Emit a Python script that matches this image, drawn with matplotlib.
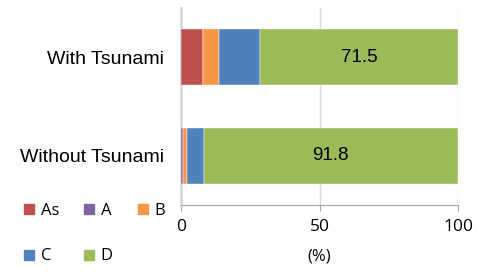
import matplotlib.pyplot as plt
from matplotlib.lines import Line2D

# data (percent share of each class)
categories = ['With Tsunami', 'Without Tsunami']
series_names = ['As', 'A', 'B', 'C', 'D']
values = {
    'As': [7.8, 0.1],
    'A': [0.0, 0.8],
    'B': [5.9, 1.4],
    'C': [14.8, 5.9],
    'D': [71.5, 91.8],
}
colors = {'As': '#C0504D', 'A': '#8064A2', 'B': '#F79646', 'C': '#4F81BD', 'D': '#9BBB59'}
ticks = [0, 50, 100]

fig = plt.figure(figsize=(4.78, 2.73), dpi=100)
ax = fig.add_axes([181/478, 1 - 205/273, 277/478, 197/273])

ypos = list(range(len(categories)))
left = [0.0] * len(categories)
for name in series_names:
    ax.barh(ypos, values[name], left=left, height=0.57, color=colors[name],
            edgecolor='white', linewidth=0.3, zorder=3)
    left = [l + v for l, v in zip(left, values[name])]

# label the D segment
for i, v in enumerate(values['D']):
    start = 100 - v
    ax.text(start + v / 2, i, f'{v:.1f}', ha='center', va='center',
            fontsize=13.5, family='Liberation Sans', color='black', zorder=4)

ax.set_xlim(0, 100)
ax.set_ylim(1.5, -0.5)
ax.set_yticks(ypos)
ax.set_yticklabels(categories, fontsize=14, family='Liberation Sans')
ax.set_xticks(ticks)
ax.set_xticklabels([str(t) for t in ticks], fontsize=12.5, family='Open Sans')
ax.tick_params(axis='y', length=0, pad=12)
ax.tick_params(axis='x', length=4, color='#A6A6A6', pad=6)
ax.set_xlabel('(%)', fontsize=12, family='Open Sans', labelpad=10)

ax.grid(axis='x', color='#D9D9D9', linewidth=1, zorder=0)
for s in ['top', 'right']:
    ax.spines[s].set_visible(False)
ax.spines['bottom'].set_color('#A6A6A6')
ax.spines['left'].set_color('#D9D9D9')
ax.spines['left'].set_linewidth(2)

# legend filled row by row: As A B / C D
order = ['As', 'C', 'A', 'D', 'B']
handles = [Line2D([], [], marker='s', linestyle='none', markersize=6.5,
                  markerfacecolor=colors[n], markeredgecolor=colors[n]) for n in order]
fig.legend(handles, order, loc='upper left', bbox_to_anchor=(10/478, 1 - 190/273),
           ncol=3, frameon=False, prop={'family': 'Open Sans', 'size': 12},
           handlelength=0.7, handletextpad=0.35, columnspacing=1.45, labelspacing=1.75,
           borderpad=0.3)

fig.savefig('out.png', dpi=100)
